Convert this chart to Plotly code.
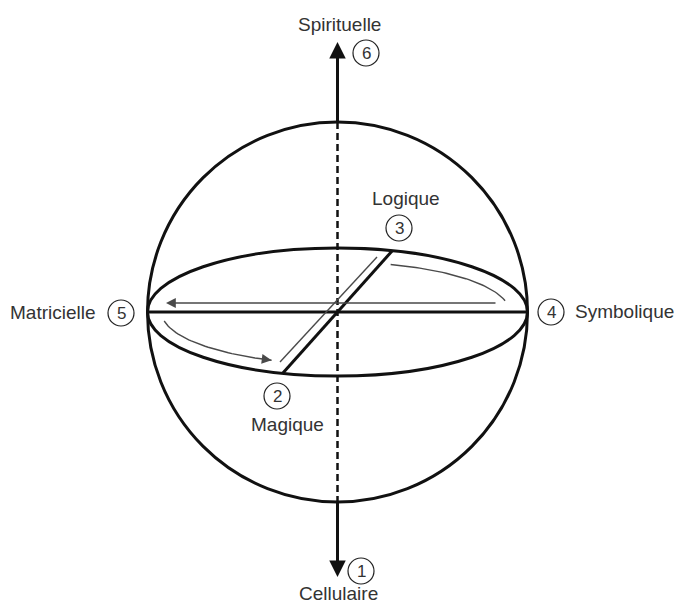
import numpy as np
import plotly.graph_objects as go

# stages of the diagram, numbered 1..6
numeros = ["1", "2", "3", "4", "5", "6"]
noms = ["Cellulaire", "Magique", "Logique", "Symbolique", "Matricielle", "Spirituelle"]

# geometry (pixel space, y downwards)
cx, cy = 337.5, 312
R = 190            # sphere
b = 64             # equator ellipse half height

# where the circled number and the name go for each stage
pos_num = [(361, 571), (277, 396), (399, 228), (551, 312), (121, 313), (366, 53)]
pos_nom = [(338, 593), (287, 424), (406, 198), (624, 311), (53, 312), (339, 24)]

NOIR = "#111111"
GRIS = "#4a4a4a"
TEXTE = "#333333"

fig = go.Figure()
shapes = []
annots = []

# sphere and equator
shapes.append(dict(type="circle", x0=cx - R, x1=cx + R, y0=cy - R, y1=cy + R,
                   line=dict(color=NOIR, width=3)))
shapes.append(dict(type="circle", x0=cx - R, x1=cx + R, y0=cy - b, y1=cy + b,
                   line=dict(color=NOIR, width=3)))
# horizontal diameter
shapes.append(dict(type="line", x0=cx - R, x1=cx + R, y0=cy, y1=cy,
                   line=dict(color=NOIR, width=3)))
# dashed axis inside the sphere
shapes.append(dict(type="line", x0=cx, x1=cx, y0=cy - R, y1=cy + R,
                   line=dict(color=NOIR, width=2.5, dash="7px,4px")))

# diagonal diameter of the ellipse
d = np.array([110.0, -123.0])
t = 1 / np.sqrt((d[0] / R) ** 2 + (d[1] / b) ** 2)
p1 = (cx + t * d[0], cy + t * d[1])
p2 = (cx - t * d[0], cy - t * d[1])
shapes.append(dict(type="line", x0=p2[0], y0=p2[1], x1=p1[0], y1=p1[1],
                   line=dict(color=NOIR, width=3)))

# vertical arrows outside the sphere
annots.append(dict(x=cx, y=42, ax=cx, ay=cy - R + 1, xref="x", yref="y", axref="x", ayref="y",
                   showarrow=True, arrowhead=2, arrowsize=1.1, arrowwidth=3, arrowcolor=NOIR, text=""))
annots.append(dict(x=cx, y=577, ax=cx, ay=cy + R - 1, xref="x", yref="y", axref="x", ayref="y",
                   showarrow=True, arrowhead=2, arrowsize=1.1, arrowwidth=3, arrowcolor=NOIR, text=""))


def fleche(x, y, ax, ay):
    annots.append(dict(x=x, y=y, ax=ax, ay=ay, xref="x", yref="y", axref="x", ayref="y",
                       showarrow=True, arrowhead=2, arrowsize=1.4, arrowwidth=1.4,
                       arrowcolor=GRIS, text="", standoff=0))


# 2 -> 3 : thin line along the diagonal (no visible head)
shapes.append(dict(type="line", x0=280, y0=362, x1=377, y1=257,
                   line=dict(color=GRIS, width=1.4)))
# 3 -> 4 : arc inside the upper ellipse
th = np.radians(np.linspace(72, 13, 40))
xa = cx + 172 * np.cos(th)
ya = cy - 50 * np.sin(th)
fig.add_trace(go.Scatter(x=xa, y=ya, mode="lines", line=dict(color=GRIS, width=1.4),
                         hoverinfo="skip", showlegend=False))
fleche(xa[-1], ya[-1], xa[-3], ya[-3])
# 4 -> 5 : straight line
fleche(166, 303, 497, 303)
# 5 -> 2 : arc inside the lower ellipse
th = np.radians(np.linspace(190, 248, 40))
xb = cx + 176 * np.cos(th)
yb = cy - 52 * np.sin(th)
fig.add_trace(go.Scatter(x=xb, y=yb, mode="lines", line=dict(color=GRIS, width=1.4),
                         hoverinfo="skip", showlegend=False))
fleche(xb[-1], yb[-1], xb[-3], yb[-3])

# labels
police = "Liberation Sans, Arial, sans-serif"
for n, nom, (nx, ny), (tx, ty) in zip(numeros, noms, pos_num, pos_nom):
    shapes.append(dict(type="circle", x0=nx - 13, x1=nx + 13, y0=ny - 13, y1=ny + 13,
                       line=dict(color="#222222", width=1.2)))
    annots.append(dict(x=nx, y=ny + 0.5, text=n, showarrow=False, xref="x", yref="y",
                       font=dict(family=police, size=17, color=TEXTE)))
    annots.append(dict(x=tx, y=ty, text=nom, showarrow=False, xref="x", yref="y",
                       font=dict(family=police, size=19, color=TEXTE)))

# the page body has an 8px margin: shift the visible range so that
# data units stay equal to window pixels
fig.update_layout(
    width=680, height=596,
    margin=dict(l=0, r=0, t=0, b=0),
    paper_bgcolor="white", plot_bgcolor="white",
    shapes=shapes, annotations=annots,
    showlegend=False,
)
fig.update_xaxes(range=[8, 688], visible=False, showgrid=False, zeroline=False)
fig.update_yaxes(range=[604, 8], visible=False, showgrid=False, zeroline=False)

fig.write_html("out.html")
